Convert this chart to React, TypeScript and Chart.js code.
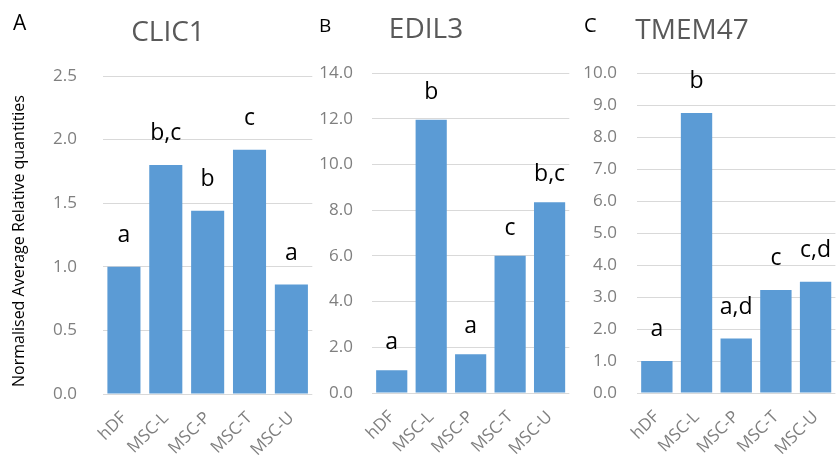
import React, { useEffect, useRef } from "react";
import { Chart, registerables } from "chart.js";

Chart.register(...registerables);

const categories = ["hDF", "MSC-L", "MSC-P", "MSC-T", "MSC-U"];

const clic1Values = [1.0, 1.8, 1.44, 1.92, 0.86];
const clic1Letters = ["a", "b,c", "b", "c", "a"];
const clic1Axis = { max: 2.5, step: 0.5 };

const edil3Values = [1.0, 11.95, 1.7, 6.0, 8.35];
const edil3Letters = ["a", "b", "a", "c", "b,c"];
const edil3Axis = { max: 14, step: 2 };

const tmem47Values = [1.0, 8.75, 1.7, 3.22, 3.48];
const tmem47Letters = ["a", "b", "a,d", "c", "c,d"];
const tmem47Axis = { max: 10, step: 1 };

const yAxisTitle = "Normalised Average Relative quantities";

const FONT = '"Open Sans", "Noto Sans", sans-serif';
const BAR = "#5b9bd5";
const GRID = "#d9d9d9";
const TICK = "#7f7f7f";

type Panel = {
  key: string;
  values: number[];
  letters: string[];
  axis: { max: number; step: number };
  gene: string;
  panelLetter: string;
  left: number;
  width: number;
  padTop: number;
  padRight: number;
  yWidth: number;
  xHeight: number;
  tickPad: number;
  letterOffset: number;
  letterX: number;
  letterY: number;
  letterSize: number;
  titleX: number;
  titleY: number;
  showYTitle: boolean;
};

const panels: Panel[] = [
  {
    key: "A", values: clic1Values, letters: clic1Letters, axis: clic1Axis, gene: "CLIC1", panelLetter: "A",
    left: 0, width: 320, padTop: 76, padRight: 2, yWidth: 103, xHeight: 64, tickPad: 26, letterOffset: 25,
    letterX: 13, letterY: 30, letterSize: 21, titleX: 168, titleY: 41, showYTitle: true,
  },
  {
    key: "B", values: edil3Values, letters: edil3Letters, axis: edil3Axis, gene: "EDIL3", panelLetter: "B",
    left: 300, width: 278, padTop: 73, padRight: 0, yWidth: 72, xHeight: 65, tickPad: 19, letterOffset: 21,
    letterX: 319, letterY: 32, letterSize: 19, titleX: 426, titleY: 38, showYTitle: false,
  },
  {
    key: "C", values: tmem47Values, letters: tmem47Letters, axis: tmem47Axis, gene: "TMEM47", panelLetter: "C",
    left: 575, width: 269, padTop: 73, padRight: 0, yWidth: 62, xHeight: 65, tickPad: 20, letterOffset: 25,
    letterX: 584, letterY: 32, letterSize: 20, titleX: 692, titleY: 39, showYTitle: false,
  },
];

const panelPlugin = {
  id: "panelText",
  afterDatasetsDraw(chart: any, _args: any, opts: any) {
    const p: Panel = opts.panel;
    const ctx = chart.ctx as CanvasRenderingContext2D;
    const meta = chart.getDatasetMeta(0);
    ctx.save();
    ctx.fillStyle = "#000";
    ctx.font = `23px ${FONT}`;
    ctx.textAlign = "center";
    ctx.textBaseline = "alphabetic";
    meta.data.forEach((el: any, i: number) => {
      ctx.fillText(p.letters[i], el.x, el.y - p.letterOffset);
    });
    // panel letter
    ctx.textAlign = "left";
    ctx.font = `${p.letterSize}px ${FONT}`;
    ctx.fillText(p.panelLetter, p.letterX - p.left, p.letterY);
    // gene title
    ctx.textAlign = "center";
    ctx.fillStyle = "#595959";
    ctx.font = `28px ${FONT}`;
    ctx.fillText(p.gene, p.titleX - p.left, p.titleY);
    if (p.showYTitle) {
      ctx.fillStyle = "#000";
      ctx.font = `16px ${FONT}`;
      ctx.translate(19 - p.left, 241);
      ctx.rotate(-Math.PI / 2);
      ctx.textBaseline = "middle";
      ctx.fillText(yAxisTitle, 0, 0);
    }
    ctx.restore();
  },
};

function PanelChart({ p }: { p: Panel }) {
  const ref = useRef<HTMLCanvasElement | null>(null);
  useEffect(() => {
    if (!ref.current) return;
    const chart = new Chart(ref.current, {
      type: "bar",
      data: {
        labels: categories,
        datasets: [
          {
            data: p.values,
            backgroundColor: BAR,
            borderWidth: 0,
            categoryPercentage: 1,
            barPercentage: 0.79,
          },
        ],
      },
      options: {
        responsive: false,
        animation: false,
        layout: { padding: { top: p.padTop, right: p.padRight, left: 0, bottom: 0 } },
        plugins: {
          legend: { display: false },
          tooltip: { enabled: false },
          title: { display: false },
          panelText: { panel: p },
        } as any,
        scales: {
          x: {
            grid: { display: false, drawTicks: false },
            border: { display: false },
            ticks: {
              autoSkip: false,
              minRotation: 45,
              maxRotation: 45,
              padding: 14,
              color: TICK,
              font: { family: FONT, size: 17 },
            },
            afterFit(scale: any) {
              scale.height = p.xHeight;
            },
          },
          y: {
            min: 0,
            max: p.axis.max,
            grid: { color: GRID, lineWidth: 1, drawTicks: false },
            border: { display: false },
            ticks: {
              stepSize: p.axis.step,
              padding: p.tickPad,
              color: TICK,
              font: { family: FONT, size: 17 },
              callback: (v: any) => Number(v).toFixed(1),
            },
            afterFit(scale: any) {
              scale.width = p.yWidth;
            },
          },
        },
      },
      plugins: [panelPlugin as any],
    });
    return () => chart.destroy();
  }, [p]);
  return (
    <canvas
      ref={ref}
      width={p.width}
      height={458}
      style={{ position: "absolute", left: p.left, top: 0, width: p.width, height: 458 }}
    />
  );
}

export default function App() {
  return (
    <div
      style={{
        position: "fixed",
        left: 0,
        top: 0,
        width: 838,
        height: 458,
        overflow: "hidden",
        background: "#fff",
      }}
    >
      {panels.map((p) => (
        <PanelChart key={p.key} p={p} />
      ))}
    </div>
  );
}
